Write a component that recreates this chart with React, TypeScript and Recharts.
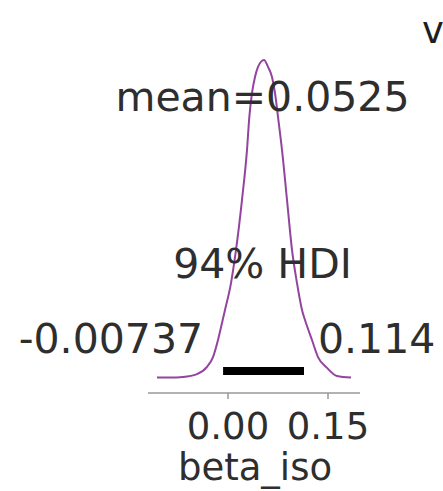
import React from "react";
import { ComposedChart, Line, XAxis, YAxis, ReferenceLine, ReferenceDot } from "recharts";

// posterior density of beta_iso
const betaIso = [
  -0.1065, -0.087, -0.0675, -0.0465, -0.0315, -0.0225, -0.015, -0.009, -0.0045, 0.0045, 0.012,
  0.021, 0.0285, 0.032, 0.036, 0.0405, 0.045, 0.054, 0.06, 0.066, 0.0705, 0.075, 0.081, 0.0885,
  0.096, 0.1035, 0.111, 0.1155, 0.126, 0.135, 0.1485, 0.1635, 0.1845,
];
const density = [
  0.02, 0.02, 0.04, 0.15, 0.43, 0.81, 1.47, 2.13, 2.63, 3.67, 4.95, 6.89, 8.82, 10.1, 11.02,
  11.64, 12.03, 12.3, 12.03, 11.64, 11.02, 10.1, 8.82, 6.89, 4.95, 3.67, 2.63, 2.24, 1.47, 0.81,
  0.39, 0.08, 0.02,
];
const xTicks = [0, 0.15];
const meanValue = 0.0525;
const hdi = [-0.00737, 0.114];
const hdiLabel = "94% HDI";
const varName = "beta_iso";

const data = betaIso.map((x, i) => ({ x, density: density[i] }));

const FONT = "DejaVu Sans, sans-serif";
const INK = "#2e2e2e";
const PURPLE = "#93449e";

const note = (text: string, dx: number, dy: number, anchor: "start" | "middle" | "end", size = 41) =>
  (props: any) => {
    const vb = props.viewBox ?? props;
    return (
      <text x={vb.x + dx} y={vb.y + dy} textAnchor={anchor} fontFamily={FONT} fontSize={size} fill={INK}>
        {text}
      </text>
    );
  };

const Tick = (props: any) => {
  const { x, y, payload } = props;
  return (
    <text x={x} y={y + 38} textAnchor="middle" fontFamily={FONT} fontSize={37} fill={INK}>
      {payload.value.toFixed(2)}
    </text>
  );
};

export default function App() {
  return (
    <div style={{ position: "absolute", left: 0, top: 0, background: "#fff" }}>
      <ComposedChart width={443} height={491} data={data} margin={{ top: 40, right: 83, left: 148, bottom: 0 }}>
        <XAxis
          dataKey="x"
          type="number"
          domain={[-0.12, 0.198]}
          ticks={xTicks}
          allowDataOverflow
          height={98}
          stroke="#999"
          strokeWidth={1.5}
          tickSize={6}
          tick={<Tick />}
          label={{ content: (p: any) => {
            const vb = p.viewBox;
            return (
              <text x={vb.x + vb.width / 2 + 1} y={480} textAnchor="middle" fontFamily={FONT} fontSize={37} fill={INK}>
                {varName}
              </text>
            );
          } }}
        />
        <YAxis hide type="number" domain={[-0.58, 13.07]} allowDataOverflow />
        <Line
          type="monotone"
          dataKey="density"
          stroke={PURPLE}
          strokeWidth={2}
          dot={false}
          isAnimationActive={false}
        />
        <ReferenceLine
          segment={[{ x: hdi[0], y: 0.27 }, { x: hdi[1], y: 0.27 }]}
          stroke="#000"
          strokeWidth={8}
          ifOverflow="visible"
        />
        <ReferenceDot x={meanValue} y={0} r={0} fill="none" stroke="none" ifOverflow="visible"
          label={{ content: note(`mean=${meanValue}`, -0.5, -267, "middle") }} />
        <ReferenceDot x={(hdi[0] + hdi[1]) / 2} y={0} r={0} fill="none" stroke="none" ifOverflow="visible"
          label={{ content: note(hdiLabel, -1, -100, "middle") }} />
        <ReferenceDot x={hdi[0]} y={0} r={0} fill="none" stroke="none" ifOverflow="visible"
          label={{ content: note(String(hdi[0]), -20, -25, "end") }} />
        <ReferenceDot x={hdi[1]} y={0} r={0} fill="none" stroke="none" ifOverflow="visible"
          label={{ content: note(String(hdi[1]), 14, -25, "start") }} />
        <text x={422} y={43} fontFamily={FONT} fontSize={37} fill="#1e1e1e">v</text>
      </ComposedChart>
    </div>
  );
}
